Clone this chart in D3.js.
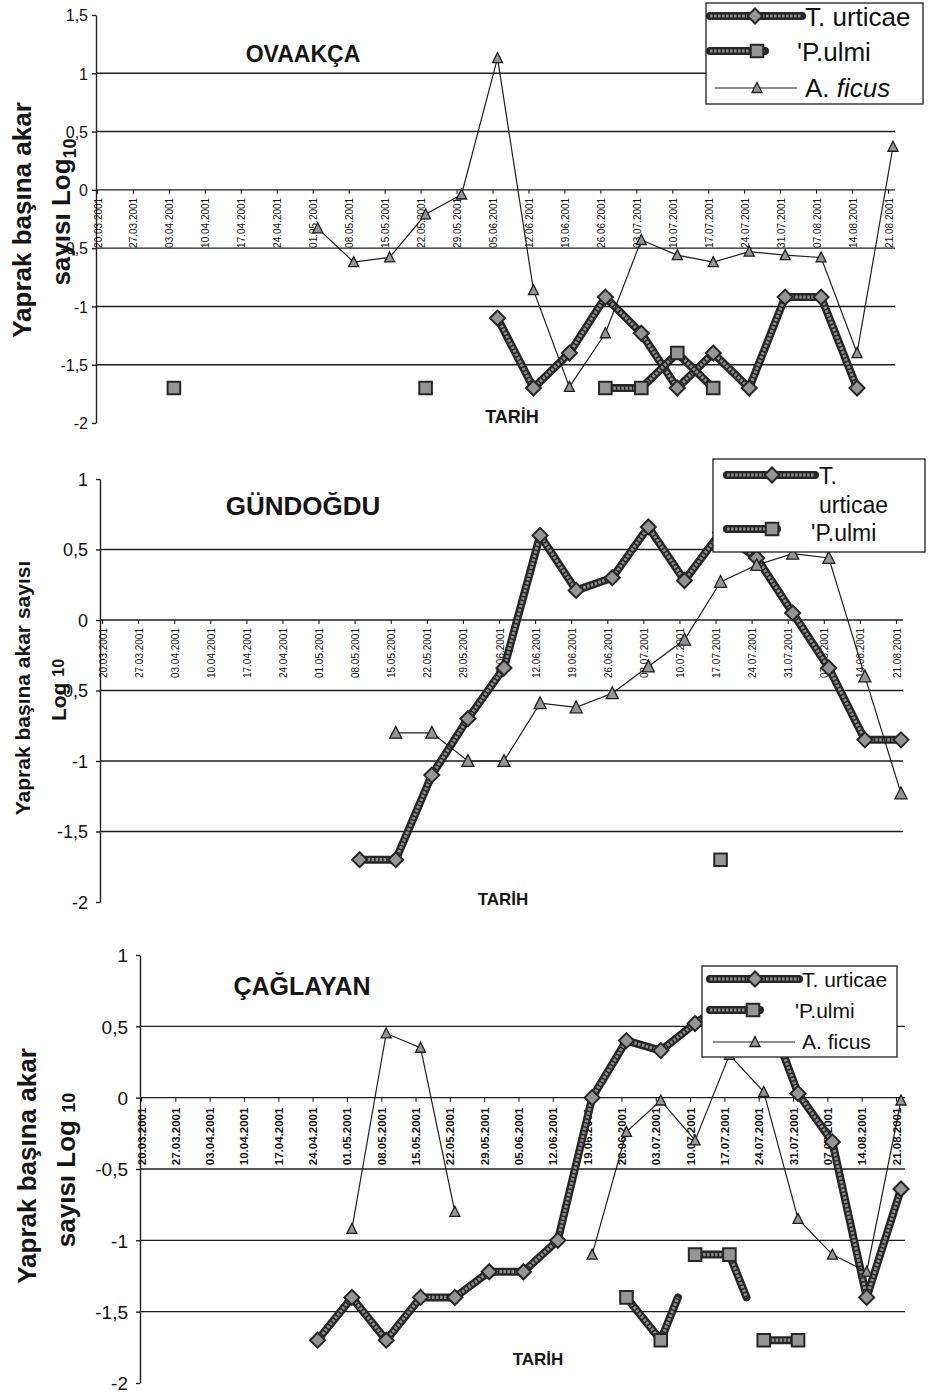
<!DOCTYPE html>
<html>
<head>
<meta charset="utf-8">
<script src="https://cdn.jsdelivr.net/npm/d3@7"></script>
<style>
  body { margin: 0; background: #fff; }
  svg { display: block; font-family: Arial, "Liberation Sans", sans-serif; }
</style>
</head>
<body>
<svg id="chart" width="937" height="1396"></svg>
<script>
const _ = null

// weekly sampling dates (category axis)
const dates = [
  "20.03.2001", "27.03.2001", "03.04.2001", "10.04.2001", "17.04.2001", "24.04.2001",
  "01.05.2001", "08.05.2001", "15.05.2001", "22.05.2001", "29.05.2001", "05.06.2001",
  "12.06.2001", "19.06.2001", "26.06.2001", "03.07.2001", "10.07.2001", "17.07.2001",
  "24.07.2001", "31.07.2001", "07.08.2001", "14.08.2001", "21.08.2001"
]

const ticksOva = [1.5, 1, 0.5, 0, -0.5, -1, -1.5, -2]
const ticksOther = [1, 0.5, 0, -0.5, -1, -1.5, -2]

// OVAAKÇA (log10 mites per leaf)
const ovaUrticae = [_, _, _, _, _, _, _, _, _, _, _, -1.1, -1.7, -1.4, -0.92, -1.23, -1.7, -1.4, -1.7, -0.92, -0.92, -1.7, _]
const ovaUlmi    = [_, _, -1.7, _, _, _, _, _, _, -1.7, _, _, _, _, -1.7, -1.7, -1.4, -1.7, _, _, _, _, _]
const ovaFicus   = [_, _, _, _, _, _, -0.33, -0.62, -0.58, -0.21, -0.04, 1.13, -0.86, -1.69, -1.23, -0.43, -0.56, -0.62, -0.53, -0.56, -0.58, -1.4, 0.37]

// GÜNDOĞDU
const gunUrticae = [_, _, _, _, _, _, _, -1.7, -1.7, -1.1, -0.7, -0.34, 0.6, 0.21, 0.3, 0.66, 0.28, 0.62, 0.44, 0.05, -0.34, -0.85, -0.85]
const gunUlmi    = [_, _, _, _, _, _, _, _, _, _, _, _, _, _, _, _, _, -1.7, _, _, _, _, _]
const gunFicus   = [_, _, _, _, _, _, _, _, -0.8, -0.8, -1.0, -1.0, -0.59, -0.62, -0.52, -0.33, -0.14, 0.27, 0.39, 0.47, 0.44, -0.4, -1.23]

// ÇAĞLAYAN
const cagUrticae = [_, _, _, _, _, -1.7, -1.4, -1.7, -1.4, -1.4, -1.22, -1.22, -1.0, 0.0, 0.4, 0.33, 0.52, 0.68, 0.67, 0.03, -0.31, -1.4, -0.64]
const cagUlmi    = [_, _, _, _, _, _, _, _, _, _, _, _, _, _, -1.4, -1.7, -1.1, -1.1, -1.7, -1.7, _, _, _]
const cagFicus   = [_, _, _, _, _, _, -0.92, 0.45, 0.35, -0.8, _, _, _, -1.1, -0.24, -0.02, -0.3, 0.3, 0.04, -0.85, -1.1, -1.22, -0.02]
// in the original the P.ulmi line leaving these dates stops half way
const cagUlmiHalf = ["03.07.2001", "17.07.2001"]

const fmt = d3.formatLocale({
  decimal: ",", thousands: ".", grouping: [3], currency: ["", ""], minus: "-"
}).format("~g")

const svg = d3.select("#chart")

const INK = "#1e1e1e"
const THICK_OUT = "#262626"
const THICK_IN = "#8e8e8e"
const MARK_FILL = "#959595"

const panels = [
  {
    title: "OVAAKÇA", titleX: 303, titleY: 62, titleSize: 23,
    left: 96, right: 895, xFirst: 102, xLast: 893,
    yTop: 15, yBottom: 423, yDomain: [-2, 1.5], yTicks: ticksOva,
    tickFont: 16, tickPad: 4, catFont: 10, catBold: false, catTop: 8,
    tarih: [512, 423], tarihSize: 18,
    ylab: [
      { x: 31, y: 220, size: 26, parts: [["Yaprak başına akar"]] },
      { x: 70, y: 212, size: 26, parts: [["sayısı Log"], ["10", 18, 6]] }
    ],
    series: [ovaUrticae, ovaUlmi, ovaFicus], half: [], tri: 10,
    legend: {
      box: [706, 3, 923, 104], size: 26,
      rows: [
        { kind: "urticae", y: 16, l: 710, r: 802, m: 755, text: "T. urticae", tx: 805, ty: 26 },
        { kind: "ulmi", y: 51, l: 710, r: 765, m: 757, text: "'P.ulmi", tx: 797, ty: 61 },
        { kind: "ficus", y: 88, l: 715, r: 797, m: 757, text: "A. ", italic: "ficus", tx: 805, ty: 97 }
      ]
    }
  },
  {
    title: "GÜNDOĞDU", titleX: 303, titleY: 515, titleSize: 26,
    left: 100, right: 903, xFirst: 107, xLast: 901,
    yTop: 479, yBottom: 902, yDomain: [-2, 1], yTicks: ticksOther,
    tickFont: 18, tickPad: 8, catFont: 10, catBold: false, catTop: 8,
    tarih: [503, 905], tarihSize: 17,
    ylab: [
      { x: 30, y: 688, size: 21, parts: [["Yaprak başına akar sayısı"]] },
      { x: 66, y: 690, size: 21, parts: [["Log "], ["10", 16, -2]] }
    ],
    series: [gunUrticae, gunUlmi, gunFicus], half: [], tri: 12,
    legend: {
      box: [713, 459, 925, 552], size: 23,
      rows: [
        { kind: "urticae", y: 475, l: 727, r: 815, m: 772, text: "T.", tx: 819, ty: 484 },
        { kind: null, text: "urticae", tx: 819, ty: 513 },
        { kind: "ulmi", y: 529, l: 727, r: 777, m: 772, text: "'P.ulmi", tx: 811, ty: 541 }
      ]
    }
  },
  {
    title: "ÇAĞLAYAN", titleX: 302, titleY: 995, titleSize: 25,
    left: 140, right: 905, xFirst: 146, xLast: 901,
    yTop: 955, yBottom: 1383, yDomain: [-2, 1], yTicks: ticksOther,
    tickFont: 19, tickPad: 8, catFont: 11.5, catBold: true, catTop: 10,
    tarih: [538, 1365], tarihSize: 17,
    ylab: [
      { x: 36, y: 1166, size: 26, parts: [["Yaprak başına akar"]] },
      { x: 75, y: 1170, size: 26, parts: [["sayısı Log "], ["10", 18, 0]] }
    ],
    series: [cagUrticae, cagUlmi, cagFicus], half: cagUlmiHalf, tri: 10,
    legend: {
      box: [702, 966, 897, 1057], size: 21,
      rows: [
        { kind: "urticae", y: 979, l: 710, r: 799, m: 755, text: "T. urticae", tx: 802, ty: 987 },
        { kind: "ulmi", y: 1010, l: 710, r: 760, m: 753, text: "'P.ulmi", tx: 795, ty: 1018 },
        { kind: "ficus", y: 1042, l: 713, r: 795, m: 755, text: "A. ficus", tx: 802, ty: 1049 }
      ]
    }
  }
]

function diamond(s) { return `M0,${-s}L${s},0L0,${s}L${-s},0Z` }
function square(s) { return `M${-s},${-s}H${s}V${s}H${-s}Z` }
function triangle(w) { const h = w * 0.9; return `M0,${-h / 2 - 1}L${w / 2},${h / 2}L${-w / 2},${h / 2}Z` }

function drawMarker(g, kind, px, py, tri) {
  if (kind === "urticae") {
    g.append("path").attr("d", diamond(7.5)).attr("transform", `translate(${px},${py})`)
      .attr("fill", MARK_FILL).attr("stroke", THICK_OUT).attr("stroke-width", 2)
  } else if (kind === "ulmi") {
    g.append("path").attr("d", square(6.3)).attr("transform", `translate(${px},${py})`)
      .attr("fill", MARK_FILL).attr("stroke", THICK_OUT).attr("stroke-width", 2)
  } else {
    g.append("path").attr("d", triangle(tri)).attr("transform", `translate(${px},${py})`)
      .attr("fill", MARK_FILL).attr("stroke", INK).attr("stroke-width", 1.3)
  }
}

function drawThick(g, pts) {
  const line = d3.line()
  g.append("path").attr("d", line(pts)).attr("fill", "none")
    .attr("stroke", THICK_OUT).attr("stroke-width", 8)
    .attr("stroke-linejoin", "round").attr("stroke-linecap", "round")
  g.append("path").attr("d", line(pts)).attr("fill", "none")
    .attr("stroke", THICK_IN).attr("stroke-width", 3.2)
    .attr("stroke-dasharray", "2.5,1.5")
    .attr("stroke-linejoin", "round").attr("stroke-linecap", "butt")
}

function drawPanel(p) {
  const x = d3.scalePoint().domain(dates).range([p.xFirst, p.xLast])
  const y = d3.scaleLinear().domain(p.yDomain).range([p.yBottom, p.yTop])
  const g = svg.append("g")

  // horizontal grid lines (not at the top and bottom of the axis)
  g.selectAll("line.grid")
    .data(p.yTicks.slice(1, -1))
    .join("line")
    .attr("class", "grid")
    .attr("x1", p.left).attr("x2", p.right)
    .attr("y1", d => y(d)).attr("y2", d => y(d))
    .attr("stroke", INK).attr("stroke-width", 1.4)

  // value axis
  const ya = g.append("g")
    .attr("transform", `translate(${p.left},0)`)
    .call(d3.axisLeft(y).tickValues(p.yTicks).tickFormat(fmt)
      .tickSize(4).tickSizeOuter(0).tickPadding(p.tickPad))
  ya.selectAll("path, line").attr("stroke", INK).attr("stroke-width", 1.4)
  ya.selectAll("text")
    .attr("font-size", p.tickFont).attr("font-family", "Arial, 'Liberation Sans', sans-serif")
    .attr("fill", "#111").attr("dy", "0.36em")

  // category axis along the zero line
  const xTick = x.copy().range([p.xFirst - 5, p.xLast - 5])
  const xa = g.append("g")
    .attr("transform", `translate(0,${y(0)})`)
    .call(d3.axisBottom(xTick).tickSize(4).tickSizeOuter(0))
  xa.select(".domain").remove()
  xa.selectAll("line").attr("stroke", INK).attr("stroke-width", 1.1)
  xa.selectAll("text")
    .attr("transform", "rotate(-90)")
    .attr("text-anchor", "end")
    .attr("x", -p.catTop).attr("y", 4).attr("dy", 0)
    .attr("font-size", p.catFont)
    .attr("font-weight", p.catBold ? "bold" : "normal")
    .attr("font-family", "Arial, 'Liberation Sans', sans-serif")
    .attr("fill", "#111")

  // series: T. urticae, P.ulmi, A. ficus
  const kinds = ["urticae", "ulmi", "ficus"]
  p.series.forEach((vals, si) => {
    const kind = kinds[si]
    const half = si === 1 ? p.half : []
    const runs = []
    let cur = []
    vals.forEach((v, i) => {
      if (v == null) { if (cur.length) runs.push(cur); cur = []; return }
      cur.push([x(dates[i]), y(v)])
      if (half.includes(dates[i]) && vals[i + 1] != null) {
        cur.push([(x(dates[i]) + x(dates[i + 1])) / 2, y((v + vals[i + 1]) / 2)])
        runs.push(cur); cur = []
      }
    })
    if (cur.length) runs.push(cur)
    const sg = g.append("g")
    runs.filter(r => r.length > 1).forEach(r => {
      if (kind === "ficus") {
        sg.append("path").attr("d", d3.line()(r)).attr("fill", "none")
          .attr("stroke", INK).attr("stroke-width", 1.2)
      } else {
        drawThick(sg, r)
      }
    })
    vals.forEach((v, i) => {
      if (v != null) drawMarker(sg, kind, x(dates[i]), y(v), p.tri)
    })
  })

  // title and axis captions
  g.append("text").attr("x", p.titleX).attr("y", p.titleY)
    .attr("text-anchor", "middle").attr("font-weight", "bold")
    .attr("font-size", p.titleSize).attr("fill", "#151515").text(p.title)
  g.append("text").attr("x", p.tarih[0]).attr("y", p.tarih[1])
    .attr("text-anchor", "middle").attr("font-weight", "bold")
    .attr("font-size", p.tarihSize).attr("fill", "#151515").text("TARİH")

  p.ylab.forEach(l => {
    const t = g.append("text")
      .attr("transform", `translate(${l.x},${l.y}) rotate(-90)`)
      .attr("text-anchor", "middle").attr("font-weight", "bold")
      .attr("font-size", l.size).attr("fill", "#151515")
    l.parts.forEach(part => {
      const ts = t.append("tspan").text(part[0])
      if (part[1]) ts.attr("font-size", part[1]).attr("dy", part[2])
    })
  })

  // legend
  const L = p.legend
  const lg = g.append("g")
  lg.append("rect")
    .attr("x", L.box[0]).attr("y", L.box[1])
    .attr("width", L.box[2] - L.box[0]).attr("height", L.box[3] - L.box[1])
    .attr("fill", "#fff").attr("stroke", INK).attr("stroke-width", 1.3)
  L.rows.forEach(r => {
    if (r.kind === "ficus") {
      lg.append("line").attr("x1", r.l).attr("x2", r.r).attr("y1", r.y).attr("y2", r.y)
        .attr("stroke", INK).attr("stroke-width", 1.2)
    } else if (r.kind) {
      drawThick(lg, [[r.l, r.y], [r.r, r.y]])
    }
    if (r.kind) drawMarker(lg, r.kind, r.m, r.y, p.tri)
    const t = lg.append("text").attr("x", r.tx).attr("y", r.ty)
      .attr("font-size", L.size).attr("fill", "#111").text(r.text)
    if (r.italic) t.append("tspan").attr("font-style", "italic").text(r.italic)
  })
}

panels.forEach(drawPanel)
</script>
</body>
</html>
